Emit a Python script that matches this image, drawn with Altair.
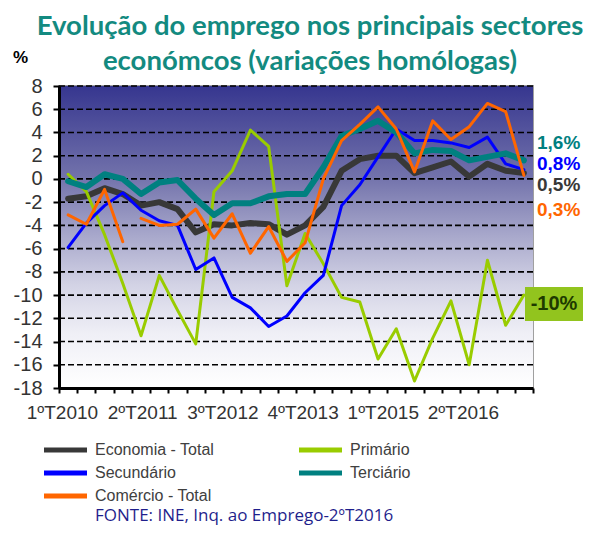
import altair as alt
import pandas as pd

quarters = ["1T2010", "2T2010", "3T2010", "4T2010",
            "1T2011", "2T2011", "3T2011", "4T2011",
            "1T2012", "2T2012", "3T2012", "4T2012",
            "1T2013", "2T2013", "3T2013", "4T2013",
            "1T2014", "2T2014", "3T2014", "4T2014",
            "1T2015", "2T2015", "3T2015", "4T2015",
            "1T2016", "2T2016"]

economia = [-1.7, -1.5, -0.8, -1.3, -2.3, -2.0, -2.6, -4.6, -3.9, -4.0, -3.8, -3.9, -4.8,
            -4.0, -2.4, 0.7, 1.7, 2.0, 2.0, 0.5, 1.0, 1.5, 0.2, 1.3, 0.7, 0.5]
primario = [0.4, -1.1, -4.8, -9.0, -13.5, -8.3, -11.3, -14.2, -1.1, 0.7, 4.2, 2.8, -9.2,
            -4.7, -7.3, -10.2, -10.6, -15.5, -12.9, -17.4, -13.7, -10.5, -16.0, -7.0, -12.6, -10.0]
secundario = [-5.9, -3.8, -2.3, -1.2, -2.7, -3.6, -4.0, -7.8, -6.8, -10.2, -11.1, -12.7, -11.8,
              -9.8, -8.3, -2.3, -0.5, 1.9, 4.3, 3.3, 3.3, 3.1, 2.7, 3.6, 1.3, 0.8]
terciario = [-0.2, -0.7, 0.4, 0.0, -1.3, -0.3, -0.1, -1.7, -3.1, -2.1, -2.1, -1.5, -1.3,
             -1.3, 1.0, 3.7, 4.3, 5.0, 4.0, 2.2, 2.5, 2.4, 1.6, 1.9, 2.2, 1.6]
comercio = [-3.1, -3.9, -0.9, -5.4, -3.4, -4.0, -3.9, -2.6, -5.1, -3.0, -6.4, -4.1, -7.1,
            -5.5, 0.0, 3.3, 4.7, 6.2, 4.3, 0.6, 5.0, 3.4, 4.5, 6.5, 5.8, 0.3]
comercio_break_after = 3  # the line is interrupted after this quarter

# drawing order (bottom to top)
series_names = ["Economia - Total", "Primário", "Secundário", "Terciário", "Comércio - Total"]
series_values = [economia, primario, secundario, terciario, comercio]
series_colors = ["#383838", "#99cc00", "#0000ff", "#008080", "#ff6600"]
series_widths = [6, 3, 3, 6, 3]

# legend order (filled column by column: 3 rows x 2 columns)
legend_order = ["Economia - Total", "Secundário", "Comércio - Total", "Primário", "Terciário"]

x_tick_labels = ["1ºT2010", "2ºT2011", "3ºT2012", "4ºT2013", "1ºT2015", "2ºT2016"]
y_ticks = list(range(-18, 9, 2))

# ---- table
rows = []
for name, vals in zip(series_names, series_values):
    for i, v in enumerate(vals):
        seg = 1 if (name == "Comércio - Total" and i > comercio_break_after) else 0
        rows.append({"series": name, "quarter": quarters[i], "pos": i + 0.5, "value": v, "seg": seg})
df = pd.DataFrame(rows)

n = len(quarters)
W, H = 474, 302

label_first, label_step = 0.16, 4.4
label_vals = [label_first + label_step * k for k in range(len(x_tick_labels))]
tick_vals = sorted(list(range(n + 1)) + label_vals)
lbl_arr = "[" + ",".join("'" + s + "'" for s in x_tick_labels) + "]"

x_axis = alt.Axis(
    values=tick_vals, title=None, grid=False, zindex=1,
    domainColor="black", domainWidth=3,
    tickColor="black", tickWidth=2, tickSize=5,
    tickOpacity={"condition": {"test": "datum.value === round(datum.value)", "value": 1}, "value": 0},
    labelExpr=f"datum.value === round(datum.value) ? '' : {lbl_arr}[round((datum.value - {label_first}) / {label_step})]",
    labelOverlap=False, labelFlush=False,
    labelFont="Liberation Sans", labelFontSize=19, labelColor="#333333", labelPadding=10,
)
y_axis = alt.Axis(
    values=y_ticks, grid=False, zindex=1, title="%",
    domainColor="black", domainWidth=3,
    tickColor="black", tickWidth=2, tickSize=6,
    labelExpr="datum.value + ''",
    labelFont="Liberation Sans", labelFontSize=20, labelColor="#333333", labelPadding=11,
    titleAngle=0, titleX=-39, titleY=-24, titleAlign="center", titleBaseline="alphabetic",
    titleFont="Liberation Sans", titleFontSize=17, titleFontWeight="bold", titleColor="black",
)

x_scale = alt.Scale(domain=[0, n], nice=False, zero=False)
y_scale = alt.Scale(domain=[-18, 8], nice=False, zero=False)

gradient = alt.Gradient(
    gradient="linear", x1=0, y1=0, x2=0, y2=1,
    stops=[
        alt.GradientStop(color="#36368f", offset=0),
        alt.GradientStop(color="#7272ab", offset=0.3),
        alt.GradientStop(color="#a9a9cc", offset=0.5),
        alt.GradientStop(color="#d3d3e5", offset=0.66),
        alt.GradientStop(color="#efeff6", offset=0.82),
        alt.GradientStop(color="#ffffff", offset=1),
    ],
)

background = alt.Chart(pd.DataFrame({"a": [0]})).mark_rect(fill=gradient).encode(
    x=alt.value(0), x2=alt.value(W), y=alt.value(0), y2=alt.value(H)
)

grid = alt.Chart(pd.DataFrame({"v": y_ticks})).mark_rule(
    color="black", strokeDash=[6, 3], strokeWidth=1.6
).encode(
    y=alt.Y("v:Q", scale=y_scale, axis=y_axis)
)

legend = alt.Legend(
    title=None, orient="none", legendX=-18, legendY=356, columns=2, columnPadding=74,
    rowPadding=3, padding=0,
    symbolType="M-1,0H7.6", symbolSize=100, symbolStrokeWidth=5, labelOffset=38,
    labelFont="Liberation Sans", labelFontSize=16, labelColor="#404040",
)

color_scale = alt.Scale(
    domain=legend_order,
    range=[series_colors[series_names.index(s)] for s in legend_order],
)

line_layers = []
for name, w in zip(series_names, series_widths):
    line_layers.append(
        alt.Chart(df).transform_filter(alt.datum.series == name).mark_line(
            strokeWidth=w, strokeJoin="round", strokeCap="round"
        ).encode(
            x=alt.X("pos:Q", scale=x_scale, axis=x_axis),
            y=alt.Y("value:Q", scale=y_scale, axis=y_axis),
            color=alt.Color("series:N", scale=color_scale, legend=legend),
            detail="seg:N",
            order="pos:Q",
        )
    )

def fmt(v):
    s = f"{v:.1f}".replace(".", ",")
    return s + "%"

end_labels = [
    (fmt(terciario[-1]), "#008080", 57),
    (fmt(secundario[-1]), "#0000ff", 78),
    (fmt(economia[-1]), "#383838", 99),
    (fmt(comercio[-1]), "#ff6600", 124),
]
ann_layers = []
for txt, col, yy in end_labels:
    ann_layers.append(
        alt.Chart(pd.DataFrame({"t": [txt]})).mark_text(
            align="left", baseline="middle", font="Liberation Sans", fontSize=19,
            fontWeight="bold", color=col
        ).encode(x=alt.value(478), y=alt.value(yy), text="t:N")
    )

prim_txt = f"{primario[-1]:.0f}%"
box = alt.Chart(pd.DataFrame({"a": [0]})).mark_rect(fill="#92c41e").encode(
    x=alt.value(466), x2=alt.value(524), y=alt.value(201), y2=alt.value(235)
)
box_text = alt.Chart(pd.DataFrame({"t": [prim_txt]})).mark_text(
    align="center", baseline="middle", font="Liberation Sans", fontSize=20,
    fontWeight="bold", color="#1e3a00"
).encode(x=alt.value(495), y=alt.value(218), text="t:N")

source = alt.Chart(pd.DataFrame({"t": ["FONTE: INE, Inq. ao Emprego-2ºT2016"]})).mark_text(
    align="left", baseline="alphabetic", font="Open Sans", fontSize=17, color="#1f1f8c"
).encode(x=alt.value(36), y=alt.value(435), text="t:N")

chart = alt.layer(
    background, grid, *line_layers, *ann_layers, box, box_text, source
).properties(
    width=W, height=H,
    autosize=alt.AutoSizeParams(type="none"),
    padding={"left": 51, "top": 78, "right": 50, "bottom": 137},
    title=alt.TitleParams(
        ["Evolução do emprego nos principais sectores", "económcos (variações homólogas)"],
        font="Lato", fontSize=27.5, fontWeight="bold", color="#138a80",
        anchor="middle", dx=14, dy=39, offset=12, lineHeight=35,
    ),
).configure_view(stroke="#a0a0a0", strokeWidth=2)

chart.save("out.html", embed_options={"renderer": "svg", "actions": False})
